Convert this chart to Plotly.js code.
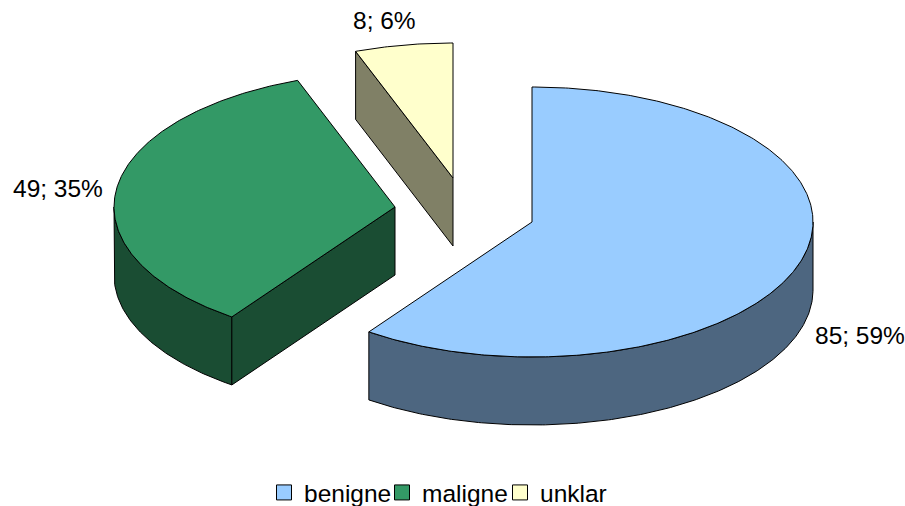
<!DOCTYPE html>
<html>
<head>
<meta charset="utf-8">
<script src="https://cdn.plot.ly/plotly-3.0.1.min.js"></script>
<style>html,body{margin:0;padding:0;background:#fff}#chart{width:905px;height:506px}</style>
</head>
<body>
<div id="chart"></div>
<script>
// Diagnosis counts, in clockwise order from twelve o'clock
const categories = ['benigne', 'maligne', 'unklar'];
const counts = [85, 49, 8];
const percentLabels = ['59%', '35%', '6%'];
const topColors = ['#99CCFF', '#339966', '#FFFFCC'];
const wallColors = ['#4D6680', '#1A4D33', '#808066'];

// Exploded wedge apexes in page pixels and the tilted disc's shape
const apexes = [[532, 222], [395, 207], [453, 178]];
const labelSpots = [[859.5, 335], [57.5, 188], [384, 20]];
const RX = 281, RY = 135, DEPTH = 68;
const FONT = 'Liberation Sans, Arial, sans-serif';
const FONT_SIZE = 24.5;

const total = counts.reduce((a, b) => a + b, 0);

// Point on a disc rim; angle is in radians clockwise from the top
function rim(apex, angle, drop) {
  return [apex[0] + RX * Math.sin(angle), apex[1] - RY * Math.cos(angle) + drop];
}
function arc(apex, from, to, drop) {
  const pts = [];
  const n = Math.max(2, Math.ceil(Math.abs(to - from) / 0.01));
  for (let i = 0; i <= n; i++) pts.push(rim(apex, from + (to - from) * i / n, drop));
  return pts;
}
function polygon(pts, color) {
  const closed = pts.concat([pts[0]]);
  return {
    x: closed.map(p => p[0]), y: closed.map(p => p[1]),
    type: 'scatter', mode: 'lines', fill: 'toself', fillcolor: color,
    line: {color: '#000', width: 1}, hoverinfo: 'skip', showlegend: false
  };
}

const traces = [];
const wedges = [];
let running = 0;
counts.forEach((c, i) => {
  const from = running / total * 2 * Math.PI;
  running += c;
  wedges.push({i, from, to: running / total * 2 * Math.PI});
});

// Paint back to front: the small wedge first, the large one last
[2, 1, 0].forEach(idx => {
  const {i, from, to} = wedges[idx];
  const apex = apexes[i];
  const wall = wallColors[i];
  // Rim wall: only the part of the rim facing the viewer (90deg to 270deg)
  const a = Math.max(from, Math.PI / 2), b = Math.min(to, 3 * Math.PI / 2);
  if (b > a) {
    traces.push(polygon(arc(apex, a, b, 0).concat(arc(apex, b, a, DEPTH)), wall));
  }
  // Cut face running from the leading rim point back to the apex
  if (from > Math.PI / 2) {
    const p = rim(apex, from, 0);
    traces.push(polygon([p, apex, [apex[0], apex[1] + DEPTH], [p[0], p[1] + DEPTH]], wall));
  }
  traces.push(polygon([apex].concat(arc(apex, from, to, 0)), topColors[i]));
});

// Legend entries
categories.forEach((name, i) => {
  traces.push({
    x: [null], y: [null], type: 'scatter', mode: 'markers', name,
    marker: {symbol: 'square', size: 15, color: topColors[i], line: {color: '#000', width: 1}},
    hoverinfo: 'skip'
  });
});

const annotations = categories.map((_, i) => ({
  x: labelSpots[i][0], y: labelSpots[i][1], xref: 'x', yref: 'y',
  text: counts[i] + '; ' + percentLabels[i], showarrow: false,
  font: {family: FONT, size: FONT_SIZE, color: '#000'}
}));

Plotly.newPlot('chart', traces, {
  width: 905, height: 506,
  margin: {l: 0, r: 0, t: 0, b: 0, autoexpand: false},
  paper_bgcolor: '#fff', plot_bgcolor: '#fff',
  xaxis: {range: [0, 905], visible: false, fixedrange: true},
  yaxis: {range: [506, 0], visible: false, fixedrange: true},
  showlegend: true,
  legend: {
    orientation: 'h', x: 264 / 905, xanchor: 'left', y: 1 - 470 / 506, yanchor: 'top',
    font: {family: FONT, size: FONT_SIZE, color: '#000'},
    entrywidth: 73, entrywidthmode: 'pixels',
    itemclick: false, itemdoubleclick: false, bgcolor: 'rgba(0,0,0,0)',
    tracegroupgap: 0
  },
  annotations
}, {staticPlot: true});
</script>
</body>
</html>
